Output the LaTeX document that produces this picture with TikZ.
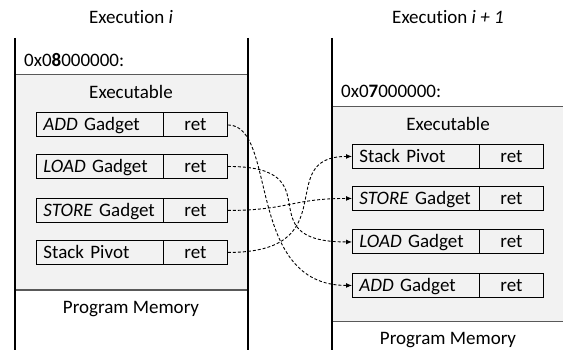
\documentclass[tikz,border=0pt]{standalone}
\usepackage{fontspec}
\setmainfont{Carlito}[Ligatures={NoCommon,NoContextual}]
\usetikzlibrary{arrows.meta}
\definecolor{memgray}{HTML}{F2F2F2}
\definecolor{sepgray}{HTML}{595959}
\begin{document}
\begin{tikzpicture}[x=1pt,y=-1pt,
  every node/.style={font=\fontsize{19}{22}\selectfont},
  colline/.style={line width=2.6pt,black},
  sepline/.style={line width=1pt,sepgray},
  namecell/.style={draw,line width=0.9pt,anchor=north west,minimum height=24pt,
    text width=113pt,inner xsep=7pt,inner ysep=0pt,align=left,text height=12pt,text depth=0pt},
  retcell/.style={draw,line width=0.9pt,anchor=north west,minimum height=24pt,
    minimum width=64pt,inner sep=0pt,text height=12pt,text depth=0pt},
  label/.style={anchor=base,inner sep=0pt},
  conn/.style={line width=0.9pt,dash pattern=on 3pt off 2pt,-{Latex[length=6pt,width=5pt]}}
]
\useasboundingbox (0,0) rectangle (563,350);
% left column
\fill[memgray] (15,75) rectangle (248,290);
\draw[sepline] (15,75) -- (248,75);
\draw[sepline] (15,290) -- (248,290);
\draw[colline] (15,38) -- (15,350);
\draw[colline] (248,38) -- (248,350);
% right column
\fill[memgray] (332,107) rectangle (563,321);
\draw[sepline] (332,107) -- (563,107);
\draw[sepline] (332,321) -- (563,321);
\draw[colline] (332,38) -- (332,350);
% titles
\node[label] (t1) at (131,23.5) {Execution \textit{i}};
\node[label] (t2) at (448,23.5) {Execution \textit{i + 1}};
\node[label,anchor=base west] (a1) at (24,67) {0x0\textbf{8}000000:};
\node[label,anchor=base west] (a2) at (341,98) {0x0\textbf{7}000000:};
\node[label] (e1) at (131,99) {Executable};
\node[label] (e2) at (448,131) {Executable};
\node[label] (p1) at (131,313) {Program Memory};
\node[label] (p2) at (448,344) {Program Memory};
% left gadgets
\node[namecell] (laddn) at (36,112.5) {\textit{ADD} Gadget};
\node[retcell] (ladd) at (163,112.5) {ret};
\node[namecell] (lloadn) at (36,154) {\textit{LOAD} Gadget};
\node[retcell] (lload) at (163,154) {ret};
\node[namecell] (lstoren) at (36,198) {\textit{STORE} Gadget};
\node[retcell] (lstore) at (163,198) {ret};
\node[namecell] (lpivn) at (36,240) {Stack Pivot};
\node[retcell] (lpiv) at (163,240) {ret};
% right gadgets
\node[namecell] (rpiv) at (352,144) {Stack Pivot};
\node[retcell] (rpivr) at (479,144) {ret};
\node[namecell] (rstore) at (352,186) {\textit{STORE} Gadget};
\node[retcell] (rstorer) at (479,186) {ret};
\node[namecell] (rload) at (352,229.5) {\textit{LOAD} Gadget};
\node[retcell] (rloadr) at (479,229.5) {ret};
\node[namecell] (radd) at (352,273) {\textit{ADD} Gadget};
\node[retcell] (raddr) at (479,273) {ret};
% connectors
\draw[conn] (ladd.east) .. controls +(50,0) and +(-107,0) .. (radd.west);
\draw[conn] (lload.east) .. controls +(108,0) and +(-108,0) .. (rload.west);
\draw[conn] (lstore.east) .. controls +(60,0) and +(-60,0) .. (rstore.west);
\draw[conn] (lpiv.east) .. controls +(120,0) and +(-80,0) .. (rpiv.west);
\end{tikzpicture}
\end{document}
